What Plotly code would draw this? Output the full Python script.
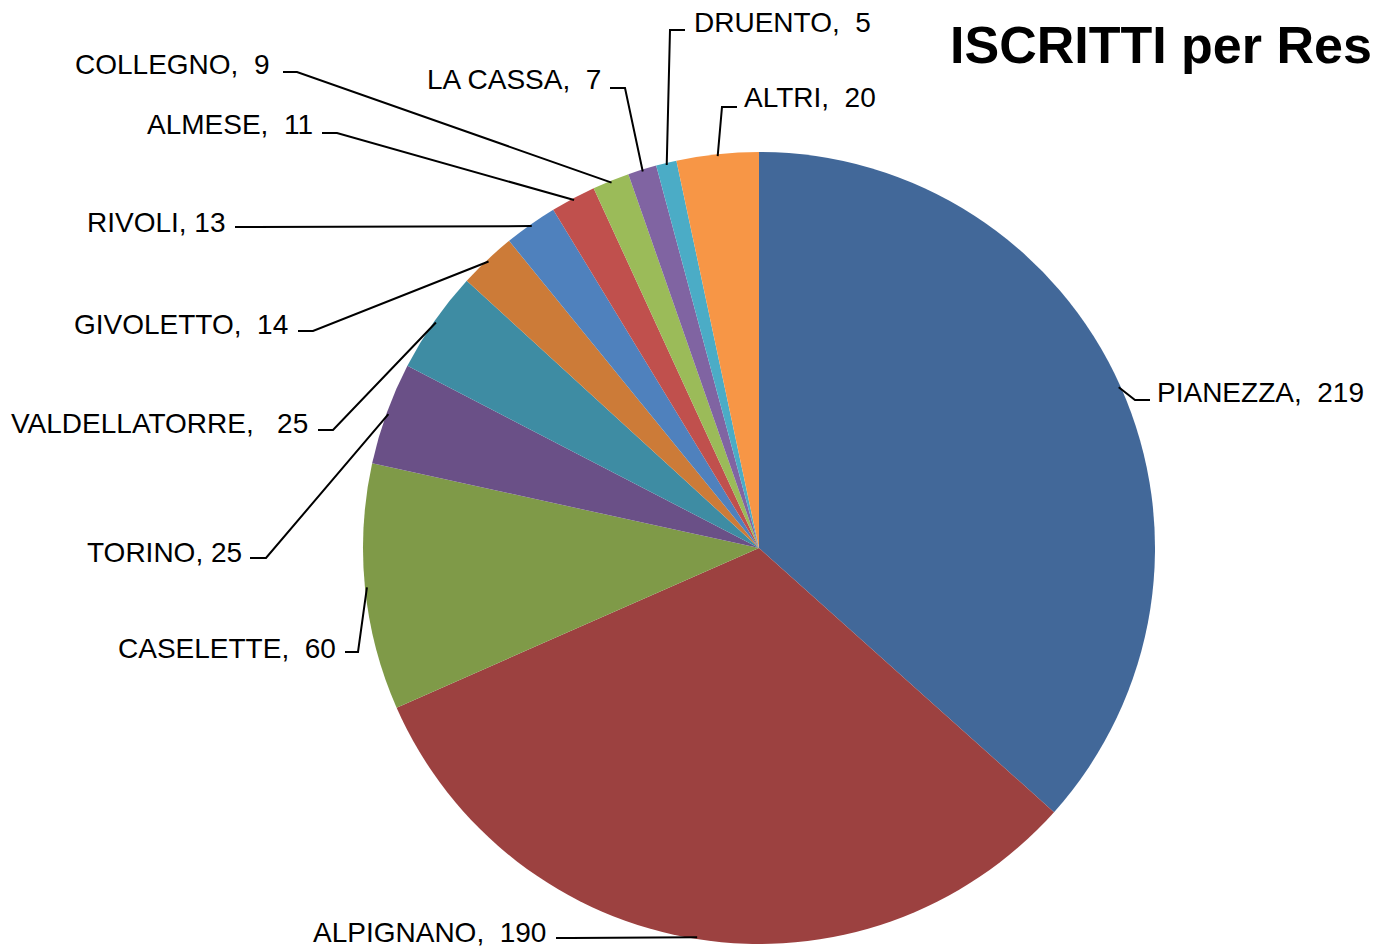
import math
import plotly.graph_objects as go

# ---- data ----
names = ["PIANEZZA", "ALPIGNANO", "CASELETTE", "TORINO", "VALDELLATORRE", "GIVOLETTO",
         "RIVOLI", "ALMESE", "COLLEGNO", "LA CASSA", "DRUENTO", "ALTRI"]
values = [219, 190, 60, 25, 25, 14, 13, 11, 9, 7, 5, 20]
title_text = "ISCRITTI per Res"

# ---- style ----
colors = ["#426899", "#9C4140", "#7F9A48", "#6A5087", "#3E8CA3", "#CC7B38",
          "#4F81BD", "#C0504D", "#9BBB59", "#8064A2", "#4BACC6", "#F79646"]
W, H = 1377, 952
CX, CY, R = 759, 548, 396
# label placement (pixels): text x, text y (center), anchor, leader y, leader horizontal segment x0->x1
lab_x = [1155, 548, 338, 244, 310, 290, 228, 315, 272, 603, 692, 742]
lab_y = [392, 932, 648, 552, 423, 324, 222, 125, 65, 79, 22, 98]
lab_anchor = ["left", "right", "right", "right", "right", "right", "right", "right", "right", "right", "left", "left"]
seg_y = [400, 938, 652, 558, 430, 331, 227, 133, 72, 88, 30, 107]
seg_x0 = [1150, 556, 345, 250, 318, 298, 235, 322, 283, 610, 685, 737]
seg_x1 = [1135, 571, 358, 266, 333, 313, 250, 337, 297, 625, 670, 722]
seps = [",\u00a0\u00a0", ",\u00a0\u00a0", ",\u00a0\u00a0", ", ", ",\u00a0\u00a0\u00a0", ",\u00a0\u00a0",
        ", ", ",\u00a0\u00a0", ",\u00a0\u00a0", ",\u00a0\u00a0", ",\u00a0\u00a0", ",\u00a0\u00a0"]
FONT = "Liberation Sans"


def px(x):
    return x / W


def py(y):
    return 1 - y / H


fig = go.Figure(go.Pie(
    labels=names, values=values, sort=False, direction="clockwise", rotation=0,
    marker=dict(colors=colors, line=dict(width=0)),
    textinfo="none", hoverinfo="label+value", showlegend=False,
    domain=dict(x=[(CX - R) / W, (CX + R) / W], y=[(H - CY - R) / H, (H - CY + R) / H]),
))

shapes = []
annotations = []
total = sum(values)
cum = 0
for i, v in enumerate(values):
    mid = (cum + v / 2) / total * 2 * math.pi
    cum += v
    ex = CX + R * 0.995 * math.sin(mid)
    ey = CY - R * 0.995 * math.cos(mid)
    path = (f"M {px(seg_x0[i])},{py(seg_y[i])} L {px(seg_x1[i])},{py(seg_y[i])} "
            f"L {px(ex)},{py(ey)}")
    shapes.append(dict(type="path", xref="paper", yref="paper", path=path,
                       line=dict(color="black", width=2)))
    annotations.append(dict(
        x=px(lab_x[i]), y=py(lab_y[i]), xref="paper", yref="paper",
        text=f"{names[i]}{seps[i]}{v}", showarrow=False,
        xanchor=lab_anchor[i], yanchor="middle",
        font=dict(family=FONT, size=28, color="black")))

annotations.append(dict(
    x=px(948), y=py(45), xref="paper", yref="paper", text=f"<b>{title_text}</b>",
    showarrow=False, xanchor="left", yanchor="middle",
    font=dict(family=FONT, size=52, color="black")))

fig.update_layout(
    width=W, height=H, margin=dict(l=0, r=0, t=0, b=0),
    paper_bgcolor="white", plot_bgcolor="white",
    shapes=shapes, annotations=annotations,
)

fig.write_html("out.html", config={"displayModeBar": False},
               post_script="document.body.style.margin='0';")
